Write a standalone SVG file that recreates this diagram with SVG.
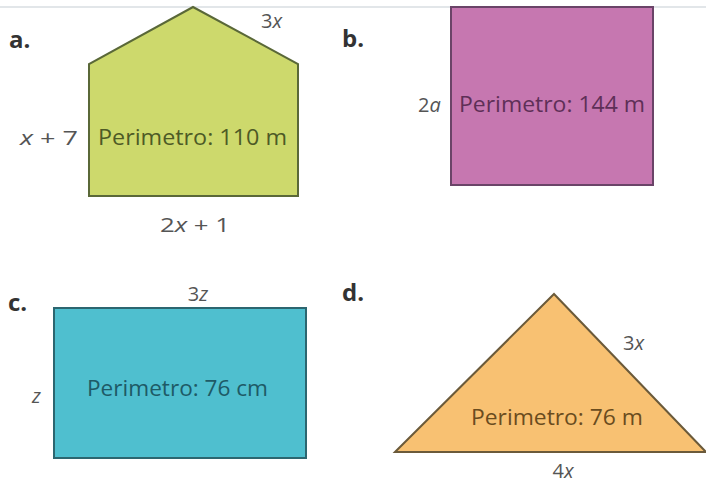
<svg xmlns="http://www.w3.org/2000/svg" width="706" height="485" viewBox="0 0 706 485">
<style>
.lbl{font-family:"Open Sans","Noto Sans",sans-serif;font-size:24px;font-weight:bold;fill:#333}
.dim{font-family:"Open Sans","Noto Sans",sans-serif;font-size:20px;fill:#555}
.dim tspan.i{font-style:italic}
.per{font-family:"Open Sans","Noto Sans",sans-serif;font-size:21px}
</style>
<rect width="706" height="485" fill="#ffffff"/>
<line x1="0" y1="7" x2="706" y2="7" stroke="#e2e6e9" stroke-width="2"/>
<g id="shape-a">
<polygon points="193,7 298,64 298,196 89,196 89,64" fill="#cdd96c" stroke="#5a6838" stroke-width="2"/>
<text class="lbl" x="9" y="48">a.</text>
<text class="per" x="98" y="145" fill="#4d5a26" textLength="189" lengthAdjust="spacingAndGlyphs">Perimetro: 110 m</text>
<text class="dim" x="261" y="28"><tspan>3</tspan><tspan class="i">x</tspan></text>
<text class="dim" x="20" y="145" textLength="58" lengthAdjust="spacingAndGlyphs"><tspan class="i">x</tspan> + 7</text>
<text class="dim" x="160" y="232" textLength="70" lengthAdjust="spacingAndGlyphs">2<tspan class="i">x</tspan> + 1</text>
</g>
<g id="shape-b">
<rect x="451" y="7" width="202" height="178" fill="#c677b0" stroke="#6a4468" stroke-width="2"/>
<text class="lbl" x="342" y="47">b.</text>
<text class="per" x="459" y="112" fill="#5e2f57" textLength="186" lengthAdjust="spacingAndGlyphs">Perimetro: 144 m</text>
<text class="dim" x="418" y="112">2<tspan class="i">a</tspan></text>
</g>
<g id="shape-c">
<rect x="54" y="308" width="252" height="150" fill="#4fbfcf" stroke="#2c6670" stroke-width="2"/>
<text class="lbl" x="8" y="311">c.</text>
<text class="per" x="87" y="396" fill="#1e5a66" textLength="181" lengthAdjust="spacingAndGlyphs">Perimetro: 76 cm</text>
<text class="dim" x="198" y="301" text-anchor="middle">3<tspan class="i">z</tspan></text>
<text class="dim" x="32" y="403"><tspan class="i">z</tspan></text>
</g>
<g id="shape-d">
<polygon points="395,452 554,294 706,452" fill="#f8c172" stroke="#6b5a3a" stroke-width="2"/>
<text class="lbl" x="342" y="301">d.</text>
<text class="per" x="471" y="425" fill="#6a4c1e" textLength="172" lengthAdjust="spacingAndGlyphs">Perimetro: 76 m</text>
<text class="dim" x="623" y="350">3<tspan class="i">x</tspan></text>
<text class="dim" x="563" y="478" text-anchor="middle">4<tspan class="i">x</tspan></text>
</g>
<g id="connectors"></g>
</svg>
